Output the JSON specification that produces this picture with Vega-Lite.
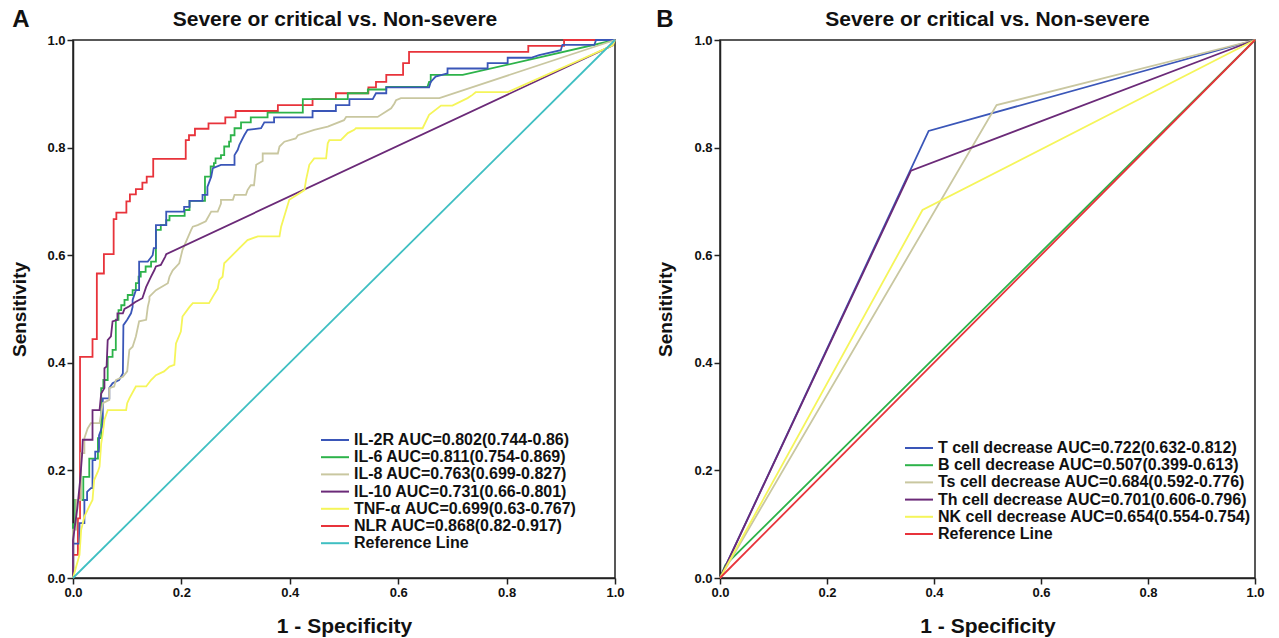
{
"$schema": "https://vega.github.io/schema/vega-lite/v6.json",
"padding": {"left": 10, "top": 8, "right": 5, "bottom": 0},
"config": {
  "view": {"stroke": "#222", "strokeWidth": 1.5},
  "font": "Liberation Sans",
  "axis": {"grid": false, "domainColor": "#222", "domainWidth": 1.5, "tickColor": "#222", "tickWidth": 1.5, "tickSize": 6, "labelFont": "Liberation Sans", "labelFontWeight": "bold", "labelFontSize": 13, "labelColor": "#111", "labelFlush": false, "titleFont": "Liberation Sans", "titleFontSize": 19, "titleFontWeight": "bold", "titleColor": "#111"},
  "axisX": {"titleFontSize": 21, "titlePadding": 16},
  "legend": {"padding": 0, "symbolType": "M-2,0H2", "symbolSize": 196, "symbolStrokeWidth": 2, "labelFont": "Liberation Sans", "labelFontSize": 16, "labelFontWeight": "bold", "labelColor": "#111", "labelLimit": 500, "rowPadding": 1.2, "labelOffset": 11},
  "title": {"font": "Liberation Sans", "fontSize": 21, "fontWeight": "bold", "color": "#111", "offset": 4},
  "concat": {"spacing": 31}
},
"datasets": {
  "a": [
    {"s":"NLR AUC=0.868(0.82-0.917)","x":0,"y":0},{"s":"NLR AUC=0.868(0.82-0.917)","x":0,"y":0.043},{"s":"NLR AUC=0.868(0.82-0.917)","x":0.009,"y":0.043},{"s":"NLR AUC=0.868(0.82-0.917)","x":0.009,"y":0.111},{"s":"NLR AUC=0.868(0.82-0.917)","x":0.013,"y":0.111},{"s":"NLR AUC=0.868(0.82-0.917)","x":0.013,"y":0.411},{"s":"NLR AUC=0.868(0.82-0.917)","x":0.036,"y":0.411},{"s":"NLR AUC=0.868(0.82-0.917)","x":0.036,"y":0.444},{"s":"NLR AUC=0.868(0.82-0.917)","x":0.044,"y":0.444},{"s":"NLR AUC=0.868(0.82-0.917)","x":0.044,"y":0.566},{"s":"NLR AUC=0.868(0.82-0.917)","x":0.057,"y":0.566},{"s":"NLR AUC=0.868(0.82-0.917)","x":0.057,"y":0.602},{"s":"NLR AUC=0.868(0.82-0.917)","x":0.075,"y":0.602},{"s":"NLR AUC=0.868(0.82-0.917)","x":0.075,"y":0.667},{"s":"NLR AUC=0.868(0.82-0.917)","x":0.08,"y":0.667},{"s":"NLR AUC=0.868(0.82-0.917)","x":0.08,"y":0.679},{"s":"NLR AUC=0.868(0.82-0.917)","x":0.0985,"y":0.679},{"s":"NLR AUC=0.868(0.82-0.917)","x":0.0985,"y":0.7},{"s":"NLR AUC=0.868(0.82-0.917)","x":0.105,"y":0.7},{"s":"NLR AUC=0.868(0.82-0.917)","x":0.105,"y":0.713},{"s":"NLR AUC=0.868(0.82-0.917)","x":0.116,"y":0.713},{"s":"NLR AUC=0.868(0.82-0.917)","x":0.116,"y":0.723},{"s":"NLR AUC=0.868(0.82-0.917)","x":0.128,"y":0.723},{"s":"NLR AUC=0.868(0.82-0.917)","x":0.128,"y":0.735},{"s":"NLR AUC=0.868(0.82-0.917)","x":0.136,"y":0.735},{"s":"NLR AUC=0.868(0.82-0.917)","x":0.136,"y":0.746},{"s":"NLR AUC=0.868(0.82-0.917)","x":0.148,"y":0.746},{"s":"NLR AUC=0.868(0.82-0.917)","x":0.148,"y":0.779},{"s":"NLR AUC=0.868(0.82-0.917)","x":0.208,"y":0.779},{"s":"NLR AUC=0.868(0.82-0.917)","x":0.208,"y":0.814},{"s":"NLR AUC=0.868(0.82-0.917)","x":0.214,"y":0.814},{"s":"NLR AUC=0.868(0.82-0.917)","x":0.214,"y":0.823},{"s":"NLR AUC=0.868(0.82-0.917)","x":0.225,"y":0.823},{"s":"NLR AUC=0.868(0.82-0.917)","x":0.225,"y":0.835},{"s":"NLR AUC=0.868(0.82-0.917)","x":0.25,"y":0.835},{"s":"NLR AUC=0.868(0.82-0.917)","x":0.25,"y":0.845},{"s":"NLR AUC=0.868(0.82-0.917)","x":0.281,"y":0.845},{"s":"NLR AUC=0.868(0.82-0.917)","x":0.281,"y":0.856},{"s":"NLR AUC=0.868(0.82-0.917)","x":0.3,"y":0.856},{"s":"NLR AUC=0.868(0.82-0.917)","x":0.3,"y":0.868},{"s":"NLR AUC=0.868(0.82-0.917)","x":0.378,"y":0.868},{"s":"NLR AUC=0.868(0.82-0.917)","x":0.378,"y":0.879},{"s":"NLR AUC=0.868(0.82-0.917)","x":0.442,"y":0.879},{"s":"NLR AUC=0.868(0.82-0.917)","x":0.442,"y":0.89},{"s":"NLR AUC=0.868(0.82-0.917)","x":0.485,"y":0.89},{"s":"NLR AUC=0.868(0.82-0.917)","x":0.485,"y":0.901},{"s":"NLR AUC=0.868(0.82-0.917)","x":0.545,"y":0.901},{"s":"NLR AUC=0.868(0.82-0.917)","x":0.545,"y":0.912},{"s":"NLR AUC=0.868(0.82-0.917)","x":0.559,"y":0.912},{"s":"NLR AUC=0.868(0.82-0.917)","x":0.559,"y":0.922},{"s":"NLR AUC=0.868(0.82-0.917)","x":0.578,"y":0.922},{"s":"NLR AUC=0.868(0.82-0.917)","x":0.578,"y":0.935},{"s":"NLR AUC=0.868(0.82-0.917)","x":0.609,"y":0.935},{"s":"NLR AUC=0.868(0.82-0.917)","x":0.609,"y":0.957},{"s":"NLR AUC=0.868(0.82-0.917)","x":0.62,"y":0.957},{"s":"NLR AUC=0.868(0.82-0.917)","x":0.62,"y":0.978},{"s":"NLR AUC=0.868(0.82-0.917)","x":0.84,"y":0.978},{"s":"NLR AUC=0.868(0.82-0.917)","x":0.84,"y":0.989},{"s":"NLR AUC=0.868(0.82-0.917)","x":0.906,"y":0.989},{"s":"NLR AUC=0.868(0.82-0.917)","x":0.906,"y":1},{"s":"NLR AUC=0.868(0.82-0.917)","x":1,"y":1},

    {"s":"IL-6 AUC=0.811(0.754-0.869)","x":0,"y":0},{"s":"IL-6 AUC=0.811(0.754-0.869)","x":0,"y":0.1},{"s":"IL-6 AUC=0.811(0.754-0.869)","x":0.004,"y":0.1},{"s":"IL-6 AUC=0.811(0.754-0.869)","x":0.004,"y":0.145},{"s":"IL-6 AUC=0.811(0.754-0.869)","x":0.019,"y":0.145},{"s":"IL-6 AUC=0.811(0.754-0.869)","x":0.019,"y":0.188},{"s":"IL-6 AUC=0.811(0.754-0.869)","x":0.03,"y":0.188},{"s":"IL-6 AUC=0.811(0.754-0.869)","x":0.03,"y":0.222},{"s":"IL-6 AUC=0.811(0.754-0.869)","x":0.046,"y":0.222},{"s":"IL-6 AUC=0.811(0.754-0.869)","x":0.046,"y":0.26},{"s":"IL-6 AUC=0.811(0.754-0.869)","x":0.052,"y":0.26},{"s":"IL-6 AUC=0.811(0.754-0.869)","x":0.052,"y":0.353},{"s":"IL-6 AUC=0.811(0.754-0.869)","x":0.056,"y":0.353},{"s":"IL-6 AUC=0.811(0.754-0.869)","x":0.056,"y":0.368},{"s":"IL-6 AUC=0.811(0.754-0.869)","x":0.064,"y":0.368},{"s":"IL-6 AUC=0.811(0.754-0.869)","x":0.064,"y":0.411},{"s":"IL-6 AUC=0.811(0.754-0.869)","x":0.073,"y":0.411},{"s":"IL-6 AUC=0.811(0.754-0.869)","x":0.073,"y":0.424},{"s":"IL-6 AUC=0.811(0.754-0.869)","x":0.079,"y":0.424},{"s":"IL-6 AUC=0.811(0.754-0.869)","x":0.079,"y":0.48},{"s":"IL-6 AUC=0.811(0.754-0.869)","x":0.084,"y":0.48},{"s":"IL-6 AUC=0.811(0.754-0.869)","x":0.084,"y":0.498},{"s":"IL-6 AUC=0.811(0.754-0.869)","x":0.089,"y":0.498},{"s":"IL-6 AUC=0.811(0.754-0.869)","x":0.089,"y":0.507},{"s":"IL-6 AUC=0.811(0.754-0.869)","x":0.095,"y":0.507},{"s":"IL-6 AUC=0.811(0.754-0.869)","x":0.095,"y":0.517},{"s":"IL-6 AUC=0.811(0.754-0.869)","x":0.101,"y":0.517},{"s":"IL-6 AUC=0.811(0.754-0.869)","x":0.101,"y":0.526},{"s":"IL-6 AUC=0.811(0.754-0.869)","x":0.11,"y":0.526},{"s":"IL-6 AUC=0.811(0.754-0.869)","x":0.11,"y":0.535},{"s":"IL-6 AUC=0.811(0.754-0.869)","x":0.116,"y":0.535},{"s":"IL-6 AUC=0.811(0.754-0.869)","x":0.116,"y":0.548},{"s":"IL-6 AUC=0.811(0.754-0.869)","x":0.121,"y":0.548},{"s":"IL-6 AUC=0.811(0.754-0.869)","x":0.121,"y":0.56},{"s":"IL-6 AUC=0.811(0.754-0.869)","x":0.125,"y":0.56},{"s":"IL-6 AUC=0.811(0.754-0.869)","x":0.125,"y":0.569},{"s":"IL-6 AUC=0.811(0.754-0.869)","x":0.134,"y":0.569},{"s":"IL-6 AUC=0.811(0.754-0.869)","x":0.134,"y":0.579},{"s":"IL-6 AUC=0.811(0.754-0.869)","x":0.144,"y":0.579},{"s":"IL-6 AUC=0.811(0.754-0.869)","x":0.144,"y":0.588},{"s":"IL-6 AUC=0.811(0.754-0.869)","x":0.153,"y":0.588},{"s":"IL-6 AUC=0.811(0.754-0.869)","x":0.153,"y":0.647},{"s":"IL-6 AUC=0.811(0.754-0.869)","x":0.162,"y":0.647},{"s":"IL-6 AUC=0.811(0.754-0.869)","x":0.162,"y":0.656},{"s":"IL-6 AUC=0.811(0.754-0.869)","x":0.172,"y":0.656},{"s":"IL-6 AUC=0.811(0.754-0.869)","x":0.172,"y":0.665},{"s":"IL-6 AUC=0.811(0.754-0.869)","x":0.178,"y":0.665},{"s":"IL-6 AUC=0.811(0.754-0.869)","x":0.178,"y":0.673},{"s":"IL-6 AUC=0.811(0.754-0.869)","x":0.206,"y":0.673},{"s":"IL-6 AUC=0.811(0.754-0.869)","x":0.206,"y":0.684},{"s":"IL-6 AUC=0.811(0.754-0.869)","x":0.215,"y":0.684},{"s":"IL-6 AUC=0.811(0.754-0.869)","x":0.215,"y":0.701},{"s":"IL-6 AUC=0.811(0.754-0.869)","x":0.2435,"y":0.701},{"s":"IL-6 AUC=0.811(0.754-0.869)","x":0.2435,"y":0.746},{"s":"IL-6 AUC=0.811(0.754-0.869)","x":0.254,"y":0.746},{"s":"IL-6 AUC=0.811(0.754-0.869)","x":0.254,"y":0.765},{"s":"IL-6 AUC=0.811(0.754-0.869)","x":0.26,"y":0.765},{"s":"IL-6 AUC=0.811(0.754-0.869)","x":0.26,"y":0.771},{"s":"IL-6 AUC=0.811(0.754-0.869)","x":0.263,"y":0.771},{"s":"IL-6 AUC=0.811(0.754-0.869)","x":0.263,"y":0.78},{"s":"IL-6 AUC=0.811(0.754-0.869)","x":0.273,"y":0.78},{"s":"IL-6 AUC=0.811(0.754-0.869)","x":0.273,"y":0.786},{"s":"IL-6 AUC=0.811(0.754-0.869)","x":0.279,"y":0.786},{"s":"IL-6 AUC=0.811(0.754-0.869)","x":0.279,"y":0.802},{"s":"IL-6 AUC=0.811(0.754-0.869)","x":0.288,"y":0.802},{"s":"IL-6 AUC=0.811(0.754-0.869)","x":0.288,"y":0.811},{"s":"IL-6 AUC=0.811(0.754-0.869)","x":0.291,"y":0.811},{"s":"IL-6 AUC=0.811(0.754-0.869)","x":0.291,"y":0.823},{"s":"IL-6 AUC=0.811(0.754-0.869)","x":0.298,"y":0.823},{"s":"IL-6 AUC=0.811(0.754-0.869)","x":0.298,"y":0.836},{"s":"IL-6 AUC=0.811(0.754-0.869)","x":0.31,"y":0.836},{"s":"IL-6 AUC=0.811(0.754-0.869)","x":0.31,"y":0.847},{"s":"IL-6 AUC=0.811(0.754-0.869)","x":0.328,"y":0.847},{"s":"IL-6 AUC=0.811(0.754-0.869)","x":0.328,"y":0.856},{"s":"IL-6 AUC=0.811(0.754-0.869)","x":0.359,"y":0.856},{"s":"IL-6 AUC=0.811(0.754-0.869)","x":0.359,"y":0.865},{"s":"IL-6 AUC=0.811(0.754-0.869)","x":0.424,"y":0.865},{"s":"IL-6 AUC=0.811(0.754-0.869)","x":0.424,"y":0.89},{"s":"IL-6 AUC=0.811(0.754-0.869)","x":0.507,"y":0.89},{"s":"IL-6 AUC=0.811(0.754-0.869)","x":0.507,"y":0.901},{"s":"IL-6 AUC=0.811(0.754-0.869)","x":0.544,"y":0.901},{"s":"IL-6 AUC=0.811(0.754-0.869)","x":0.544,"y":0.908},{"s":"IL-6 AUC=0.811(0.754-0.869)","x":0.578,"y":0.908},{"s":"IL-6 AUC=0.811(0.754-0.869)","x":0.578,"y":0.913},{"s":"IL-6 AUC=0.811(0.754-0.869)","x":0.654,"y":0.913},{"s":"IL-6 AUC=0.811(0.754-0.869)","x":0.657,"y":0.922},{"s":"IL-6 AUC=0.811(0.754-0.869)","x":0.66,"y":0.922},{"s":"IL-6 AUC=0.811(0.754-0.869)","x":0.66,"y":0.935},{"s":"IL-6 AUC=0.811(0.754-0.869)","x":0.719,"y":0.935},{"s":"IL-6 AUC=0.811(0.754-0.869)","x":1,"y":1},

    {"s":"IL-2R AUC=0.802(0.744-0.86)","x":0,"y":0},{"s":"IL-2R AUC=0.802(0.744-0.86)","x":0,"y":0.064},{"s":"IL-2R AUC=0.802(0.744-0.86)","x":0.012,"y":0.064},{"s":"IL-2R AUC=0.802(0.744-0.86)","x":0.012,"y":0.102},{"s":"IL-2R AUC=0.802(0.744-0.86)","x":0.021,"y":0.102},{"s":"IL-2R AUC=0.802(0.744-0.86)","x":0.021,"y":0.145},{"s":"IL-2R AUC=0.802(0.744-0.86)","x":0.026,"y":0.145},{"s":"IL-2R AUC=0.802(0.744-0.86)","x":0.026,"y":0.16},{"s":"IL-2R AUC=0.802(0.744-0.86)","x":0.033,"y":0.167},{"s":"IL-2R AUC=0.802(0.744-0.86)","x":0.036,"y":0.167},{"s":"IL-2R AUC=0.802(0.744-0.86)","x":0.036,"y":0.219},{"s":"IL-2R AUC=0.802(0.744-0.86)","x":0.041,"y":0.219},{"s":"IL-2R AUC=0.802(0.744-0.86)","x":0.041,"y":0.235},{"s":"IL-2R AUC=0.802(0.744-0.86)","x":0.048,"y":0.235},{"s":"IL-2R AUC=0.802(0.744-0.86)","x":0.048,"y":0.265},{"s":"IL-2R AUC=0.802(0.744-0.86)","x":0.055,"y":0.284},{"s":"IL-2R AUC=0.802(0.744-0.86)","x":0.055,"y":0.334},{"s":"IL-2R AUC=0.802(0.744-0.86)","x":0.067,"y":0.334},{"s":"IL-2R AUC=0.802(0.744-0.86)","x":0.067,"y":0.353},{"s":"IL-2R AUC=0.802(0.744-0.86)","x":0.073,"y":0.362},{"s":"IL-2R AUC=0.802(0.744-0.86)","x":0.085,"y":0.368},{"s":"IL-2R AUC=0.802(0.744-0.86)","x":0.092,"y":0.38},{"s":"IL-2R AUC=0.802(0.744-0.86)","x":0.093,"y":0.47},{"s":"IL-2R AUC=0.802(0.744-0.86)","x":0.1,"y":0.48},{"s":"IL-2R AUC=0.802(0.744-0.86)","x":0.107,"y":0.492},{"s":"IL-2R AUC=0.802(0.744-0.86)","x":0.11,"y":0.504},{"s":"IL-2R AUC=0.802(0.744-0.86)","x":0.11,"y":0.517},{"s":"IL-2R AUC=0.802(0.744-0.86)","x":0.116,"y":0.535},{"s":"IL-2R AUC=0.802(0.744-0.86)","x":0.122,"y":0.535},{"s":"IL-2R AUC=0.802(0.744-0.86)","x":0.122,"y":0.588},{"s":"IL-2R AUC=0.802(0.744-0.86)","x":0.138,"y":0.588},{"s":"IL-2R AUC=0.802(0.744-0.86)","x":0.147,"y":0.6},{"s":"IL-2R AUC=0.802(0.744-0.86)","x":0.149,"y":0.613},{"s":"IL-2R AUC=0.802(0.744-0.86)","x":0.153,"y":0.613},{"s":"IL-2R AUC=0.802(0.744-0.86)","x":0.153,"y":0.656},{"s":"IL-2R AUC=0.802(0.744-0.86)","x":0.172,"y":0.656},{"s":"IL-2R AUC=0.802(0.744-0.86)","x":0.172,"y":0.681},{"s":"IL-2R AUC=0.802(0.744-0.86)","x":0.205,"y":0.681},{"s":"IL-2R AUC=0.802(0.744-0.86)","x":0.205,"y":0.69},{"s":"IL-2R AUC=0.802(0.744-0.86)","x":0.215,"y":0.69},{"s":"IL-2R AUC=0.802(0.744-0.86)","x":0.215,"y":0.701},{"s":"IL-2R AUC=0.802(0.744-0.86)","x":0.239,"y":0.701},{"s":"IL-2R AUC=0.802(0.744-0.86)","x":0.239,"y":0.712},{"s":"IL-2R AUC=0.802(0.744-0.86)","x":0.248,"y":0.712},{"s":"IL-2R AUC=0.802(0.744-0.86)","x":0.248,"y":0.727},{"s":"IL-2R AUC=0.802(0.744-0.86)","x":0.255,"y":0.746},{"s":"IL-2R AUC=0.802(0.744-0.86)","x":0.258,"y":0.762},{"s":"IL-2R AUC=0.802(0.744-0.86)","x":0.273,"y":0.768},{"s":"IL-2R AUC=0.802(0.744-0.86)","x":0.298,"y":0.768},{"s":"IL-2R AUC=0.802(0.744-0.86)","x":0.298,"y":0.786},{"s":"IL-2R AUC=0.802(0.744-0.86)","x":0.304,"y":0.796},{"s":"IL-2R AUC=0.802(0.744-0.86)","x":0.307,"y":0.805},{"s":"IL-2R AUC=0.802(0.744-0.86)","x":0.316,"y":0.823},{"s":"IL-2R AUC=0.802(0.744-0.86)","x":0.322,"y":0.833},{"s":"IL-2R AUC=0.802(0.744-0.86)","x":0.347,"y":0.836},{"s":"IL-2R AUC=0.802(0.744-0.86)","x":0.353,"y":0.847},{"s":"IL-2R AUC=0.802(0.744-0.86)","x":0.371,"y":0.847},{"s":"IL-2R AUC=0.802(0.744-0.86)","x":0.371,"y":0.856},{"s":"IL-2R AUC=0.802(0.744-0.86)","x":0.442,"y":0.856},{"s":"IL-2R AUC=0.802(0.744-0.86)","x":0.442,"y":0.868},{"s":"IL-2R AUC=0.802(0.744-0.86)","x":0.485,"y":0.868},{"s":"IL-2R AUC=0.802(0.744-0.86)","x":0.485,"y":0.879},{"s":"IL-2R AUC=0.802(0.744-0.86)","x":0.51,"y":0.879},{"s":"IL-2R AUC=0.802(0.744-0.86)","x":0.51,"y":0.89},{"s":"IL-2R AUC=0.802(0.744-0.86)","x":0.553,"y":0.89},{"s":"IL-2R AUC=0.802(0.744-0.86)","x":0.559,"y":0.901},{"s":"IL-2R AUC=0.802(0.744-0.86)","x":0.578,"y":0.901},{"s":"IL-2R AUC=0.802(0.744-0.86)","x":0.578,"y":0.912},{"s":"IL-2R AUC=0.802(0.744-0.86)","x":0.657,"y":0.912},{"s":"IL-2R AUC=0.802(0.744-0.86)","x":0.66,"y":0.922},{"s":"IL-2R AUC=0.802(0.744-0.86)","x":0.669,"y":0.932},{"s":"IL-2R AUC=0.802(0.744-0.86)","x":0.691,"y":0.938},{"s":"IL-2R AUC=0.802(0.744-0.86)","x":0.691,"y":0.947},{"s":"IL-2R AUC=0.802(0.744-0.86)","x":0.765,"y":0.947},{"s":"IL-2R AUC=0.802(0.744-0.86)","x":0.765,"y":0.957},{"s":"IL-2R AUC=0.802(0.744-0.86)","x":0.802,"y":0.957},{"s":"IL-2R AUC=0.802(0.744-0.86)","x":0.802,"y":0.967},{"s":"IL-2R AUC=0.802(0.744-0.86)","x":0.845,"y":0.967},{"s":"IL-2R AUC=0.802(0.744-0.86)","x":0.86,"y":0.972},{"s":"IL-2R AUC=0.802(0.744-0.86)","x":0.9,"y":0.981},{"s":"IL-2R AUC=0.802(0.744-0.86)","x":0.903,"y":0.991},{"s":"IL-2R AUC=0.802(0.744-0.86)","x":0.962,"y":0.991},{"s":"IL-2R AUC=0.802(0.744-0.86)","x":0.965,"y":1},{"s":"IL-2R AUC=0.802(0.744-0.86)","x":1,"y":1},

    {"s":"IL-8 AUC=0.763(0.699-0.827)","x":0,"y":0},{"s":"IL-8 AUC=0.763(0.699-0.827)","x":0,"y":0.09},{"s":"IL-8 AUC=0.763(0.699-0.827)","x":0.006,"y":0.09},{"s":"IL-8 AUC=0.763(0.699-0.827)","x":0.006,"y":0.145},{"s":"IL-8 AUC=0.763(0.699-0.827)","x":0.015,"y":0.145},{"s":"IL-8 AUC=0.763(0.699-0.827)","x":0.015,"y":0.232},{"s":"IL-8 AUC=0.763(0.699-0.827)","x":0.021,"y":0.232},{"s":"IL-8 AUC=0.763(0.699-0.827)","x":0.021,"y":0.26},{"s":"IL-8 AUC=0.763(0.699-0.827)","x":0.027,"y":0.278},{"s":"IL-8 AUC=0.763(0.699-0.827)","x":0.033,"y":0.288},{"s":"IL-8 AUC=0.763(0.699-0.827)","x":0.049,"y":0.288},{"s":"IL-8 AUC=0.763(0.699-0.827)","x":0.055,"y":0.325},{"s":"IL-8 AUC=0.763(0.699-0.827)","x":0.067,"y":0.331},{"s":"IL-8 AUC=0.763(0.699-0.827)","x":0.067,"y":0.353},{"s":"IL-8 AUC=0.763(0.699-0.827)","x":0.076,"y":0.356},{"s":"IL-8 AUC=0.763(0.699-0.827)","x":0.079,"y":0.368},{"s":"IL-8 AUC=0.763(0.699-0.827)","x":0.092,"y":0.374},{"s":"IL-8 AUC=0.763(0.699-0.827)","x":0.1,"y":0.384},{"s":"IL-8 AUC=0.763(0.699-0.827)","x":0.104,"y":0.424},{"s":"IL-8 AUC=0.763(0.699-0.827)","x":0.11,"y":0.43},{"s":"IL-8 AUC=0.763(0.699-0.827)","x":0.116,"y":0.449},{"s":"IL-8 AUC=0.763(0.699-0.827)","x":0.122,"y":0.477},{"s":"IL-8 AUC=0.763(0.699-0.827)","x":0.135,"y":0.48},{"s":"IL-8 AUC=0.763(0.699-0.827)","x":0.138,"y":0.504},{"s":"IL-8 AUC=0.763(0.699-0.827)","x":0.141,"y":0.517},{"s":"IL-8 AUC=0.763(0.699-0.827)","x":0.141,"y":0.523},{"s":"IL-8 AUC=0.763(0.699-0.827)","x":0.153,"y":0.535},{"s":"IL-8 AUC=0.763(0.699-0.827)","x":0.175,"y":0.548},{"s":"IL-8 AUC=0.763(0.699-0.827)","x":0.178,"y":0.56},{"s":"IL-8 AUC=0.763(0.699-0.827)","x":0.184,"y":0.572},{"s":"IL-8 AUC=0.763(0.699-0.827)","x":0.196,"y":0.585},{"s":"IL-8 AUC=0.763(0.699-0.827)","x":0.202,"y":0.61},{"s":"IL-8 AUC=0.763(0.699-0.827)","x":0.218,"y":0.647},{"s":"IL-8 AUC=0.763(0.699-0.827)","x":0.221,"y":0.653},{"s":"IL-8 AUC=0.763(0.699-0.827)","x":0.23,"y":0.656},{"s":"IL-8 AUC=0.763(0.699-0.827)","x":0.245,"y":0.663},{"s":"IL-8 AUC=0.763(0.699-0.827)","x":0.255,"y":0.681},{"s":"IL-8 AUC=0.763(0.699-0.827)","x":0.267,"y":0.681},{"s":"IL-8 AUC=0.763(0.699-0.827)","x":0.273,"y":0.696},{"s":"IL-8 AUC=0.763(0.699-0.827)","x":0.273,"y":0.703},{"s":"IL-8 AUC=0.763(0.699-0.827)","x":0.295,"y":0.703},{"s":"IL-8 AUC=0.763(0.699-0.827)","x":0.298,"y":0.712},{"s":"IL-8 AUC=0.763(0.699-0.827)","x":0.319,"y":0.712},{"s":"IL-8 AUC=0.763(0.699-0.827)","x":0.322,"y":0.721},{"s":"IL-8 AUC=0.763(0.699-0.827)","x":0.328,"y":0.73},{"s":"IL-8 AUC=0.763(0.699-0.827)","x":0.334,"y":0.73},{"s":"IL-8 AUC=0.763(0.699-0.827)","x":0.338,"y":0.768},{"s":"IL-8 AUC=0.763(0.699-0.827)","x":0.35,"y":0.775},{"s":"IL-8 AUC=0.763(0.699-0.827)","x":0.35,"y":0.789},{"s":"IL-8 AUC=0.763(0.699-0.827)","x":0.378,"y":0.789},{"s":"IL-8 AUC=0.763(0.699-0.827)","x":0.381,"y":0.802},{"s":"IL-8 AUC=0.763(0.699-0.827)","x":0.39,"y":0.811},{"s":"IL-8 AUC=0.763(0.699-0.827)","x":0.411,"y":0.817},{"s":"IL-8 AUC=0.763(0.699-0.827)","x":0.415,"y":0.823},{"s":"IL-8 AUC=0.763(0.699-0.827)","x":0.445,"y":0.833},{"s":"IL-8 AUC=0.763(0.699-0.827)","x":0.47,"y":0.839},{"s":"IL-8 AUC=0.763(0.699-0.827)","x":0.5,"y":0.851},{"s":"IL-8 AUC=0.763(0.699-0.827)","x":0.504,"y":0.857},{"s":"IL-8 AUC=0.763(0.699-0.827)","x":0.562,"y":0.857},{"s":"IL-8 AUC=0.763(0.699-0.827)","x":0.587,"y":0.873},{"s":"IL-8 AUC=0.763(0.699-0.827)","x":0.593,"y":0.882},{"s":"IL-8 AUC=0.763(0.699-0.827)","x":0.596,"y":0.888},{"s":"IL-8 AUC=0.763(0.699-0.827)","x":0.605,"y":0.892},{"s":"IL-8 AUC=0.763(0.699-0.827)","x":0.676,"y":0.892},{"s":"IL-8 AUC=0.763(0.699-0.827)","x":1,"y":1},

    {"s":"IL-10 AUC=0.731(0.66-0.801)","x":0,"y":0},{"s":"IL-10 AUC=0.731(0.66-0.801)","x":0,"y":0.07},{"s":"IL-10 AUC=0.731(0.66-0.801)","x":0.008,"y":0.13},{"s":"IL-10 AUC=0.731(0.66-0.801)","x":0.013,"y":0.18},{"s":"IL-10 AUC=0.731(0.66-0.801)","x":0.017,"y":0.232},{"s":"IL-10 AUC=0.731(0.66-0.801)","x":0.018,"y":0.257},{"s":"IL-10 AUC=0.731(0.66-0.801)","x":0.036,"y":0.257},{"s":"IL-10 AUC=0.731(0.66-0.801)","x":0.036,"y":0.312},{"s":"IL-10 AUC=0.731(0.66-0.801)","x":0.049,"y":0.312},{"s":"IL-10 AUC=0.731(0.66-0.801)","x":0.052,"y":0.343},{"s":"IL-10 AUC=0.731(0.66-0.801)","x":0.058,"y":0.353},{"s":"IL-10 AUC=0.731(0.66-0.801)","x":0.058,"y":0.39},{"s":"IL-10 AUC=0.731(0.66-0.801)","x":0.062,"y":0.393},{"s":"IL-10 AUC=0.731(0.66-0.801)","x":0.064,"y":0.442},{"s":"IL-10 AUC=0.731(0.66-0.801)","x":0.07,"y":0.449},{"s":"IL-10 AUC=0.731(0.66-0.801)","x":0.073,"y":0.477},{"s":"IL-10 AUC=0.731(0.66-0.801)","x":0.082,"y":0.48},{"s":"IL-10 AUC=0.731(0.66-0.801)","x":0.082,"y":0.492},{"s":"IL-10 AUC=0.731(0.66-0.801)","x":0.092,"y":0.492},{"s":"IL-10 AUC=0.731(0.66-0.801)","x":0.095,"y":0.5},{"s":"IL-10 AUC=0.731(0.66-0.801)","x":0.104,"y":0.505},{"s":"IL-10 AUC=0.731(0.66-0.801)","x":0.115,"y":0.513},{"s":"IL-10 AUC=0.731(0.66-0.801)","x":0.128,"y":0.52},{"s":"IL-10 AUC=0.731(0.66-0.801)","x":0.135,"y":0.541},{"s":"IL-10 AUC=0.731(0.66-0.801)","x":0.144,"y":0.56},{"s":"IL-10 AUC=0.731(0.66-0.801)","x":0.15,"y":0.572},{"s":"IL-10 AUC=0.731(0.66-0.801)","x":0.153,"y":0.579},{"s":"IL-10 AUC=0.731(0.66-0.801)","x":0.162,"y":0.582},{"s":"IL-10 AUC=0.731(0.66-0.801)","x":0.17,"y":0.597},{"s":"IL-10 AUC=0.731(0.66-0.801)","x":0.172,"y":0.602},{"s":"IL-10 AUC=0.731(0.66-0.801)","x":0.996,"y":0.99},{"s":"IL-10 AUC=0.731(0.66-0.801)","x":1,"y":1},

    {"s":"TNF-α AUC=0.699(0.63-0.767)","x":0,"y":0},{"s":"TNF-α AUC=0.699(0.63-0.767)","x":0.012,"y":0.043},{"s":"TNF-α AUC=0.699(0.63-0.767)","x":0.015,"y":0.089},{"s":"TNF-α AUC=0.699(0.63-0.767)","x":0.021,"y":0.114},{"s":"TNF-α AUC=0.699(0.63-0.767)","x":0.03,"y":0.133},{"s":"TNF-α AUC=0.699(0.63-0.767)","x":0.036,"y":0.145},{"s":"TNF-α AUC=0.699(0.63-0.767)","x":0.039,"y":0.182},{"s":"TNF-α AUC=0.699(0.63-0.767)","x":0.046,"y":0.198},{"s":"TNF-α AUC=0.699(0.63-0.767)","x":0.049,"y":0.207},{"s":"TNF-α AUC=0.699(0.63-0.767)","x":0.052,"y":0.25},{"s":"TNF-α AUC=0.699(0.63-0.767)","x":0.055,"y":0.269},{"s":"TNF-α AUC=0.699(0.63-0.767)","x":0.058,"y":0.294},{"s":"TNF-α AUC=0.699(0.63-0.767)","x":0.064,"y":0.312},{"s":"TNF-α AUC=0.699(0.63-0.767)","x":0.098,"y":0.312},{"s":"TNF-α AUC=0.699(0.63-0.767)","x":0.1,"y":0.325},{"s":"TNF-α AUC=0.699(0.63-0.767)","x":0.104,"y":0.334},{"s":"TNF-α AUC=0.699(0.63-0.767)","x":0.116,"y":0.356},{"s":"TNF-α AUC=0.699(0.63-0.767)","x":0.135,"y":0.356},{"s":"TNF-α AUC=0.699(0.63-0.767)","x":0.144,"y":0.368},{"s":"TNF-α AUC=0.699(0.63-0.767)","x":0.153,"y":0.377},{"s":"TNF-α AUC=0.699(0.63-0.767)","x":0.168,"y":0.384},{"s":"TNF-α AUC=0.699(0.63-0.767)","x":0.178,"y":0.393},{"s":"TNF-α AUC=0.699(0.63-0.767)","x":0.187,"y":0.396},{"s":"TNF-α AUC=0.699(0.63-0.767)","x":0.19,"y":0.436},{"s":"TNF-α AUC=0.699(0.63-0.767)","x":0.199,"y":0.458},{"s":"TNF-α AUC=0.699(0.63-0.767)","x":0.202,"y":0.486},{"s":"TNF-α AUC=0.699(0.63-0.767)","x":0.215,"y":0.504},{"s":"TNF-α AUC=0.699(0.63-0.767)","x":0.221,"y":0.511},{"s":"TNF-α AUC=0.699(0.63-0.767)","x":0.251,"y":0.511},{"s":"TNF-α AUC=0.699(0.63-0.767)","x":0.258,"y":0.523},{"s":"TNF-α AUC=0.699(0.63-0.767)","x":0.267,"y":0.538},{"s":"TNF-α AUC=0.699(0.63-0.767)","x":0.27,"y":0.554},{"s":"TNF-α AUC=0.699(0.63-0.767)","x":0.276,"y":0.56},{"s":"TNF-α AUC=0.699(0.63-0.767)","x":0.279,"y":0.585},{"s":"TNF-α AUC=0.699(0.63-0.767)","x":0.285,"y":0.591},{"s":"TNF-α AUC=0.699(0.63-0.767)","x":0.307,"y":0.613},{"s":"TNF-α AUC=0.699(0.63-0.767)","x":0.322,"y":0.628},{"s":"TNF-α AUC=0.699(0.63-0.767)","x":0.341,"y":0.635},{"s":"TNF-α AUC=0.699(0.63-0.767)","x":0.381,"y":0.635},{"s":"TNF-α AUC=0.699(0.63-0.767)","x":0.384,"y":0.653},{"s":"TNF-α AUC=0.699(0.63-0.767)","x":0.399,"y":0.703},{"s":"TNF-α AUC=0.699(0.63-0.767)","x":0.427,"y":0.721},{"s":"TNF-α AUC=0.699(0.63-0.767)","x":0.43,"y":0.74},{"s":"TNF-α AUC=0.699(0.63-0.767)","x":0.436,"y":0.768},{"s":"TNF-α AUC=0.699(0.63-0.767)","x":0.445,"y":0.78},{"s":"TNF-α AUC=0.699(0.63-0.767)","x":0.467,"y":0.78},{"s":"TNF-α AUC=0.699(0.63-0.767)","x":0.47,"y":0.808},{"s":"TNF-α AUC=0.699(0.63-0.767)","x":0.473,"y":0.814},{"s":"TNF-α AUC=0.699(0.63-0.767)","x":0.494,"y":0.814},{"s":"TNF-α AUC=0.699(0.63-0.767)","x":0.507,"y":0.827},{"s":"TNF-α AUC=0.699(0.63-0.767)","x":0.519,"y":0.833},{"s":"TNF-α AUC=0.699(0.63-0.767)","x":0.522,"y":0.836},{"s":"TNF-α AUC=0.699(0.63-0.767)","x":0.645,"y":0.836},{"s":"TNF-α AUC=0.699(0.63-0.767)","x":0.657,"y":0.861},{"s":"TNF-α AUC=0.699(0.63-0.767)","x":0.679,"y":0.878},{"s":"TNF-α AUC=0.699(0.63-0.767)","x":0.7,"y":0.878},{"s":"TNF-α AUC=0.699(0.63-0.767)","x":0.728,"y":0.892},{"s":"TNF-α AUC=0.699(0.63-0.767)","x":0.737,"y":0.898},{"s":"TNF-α AUC=0.699(0.63-0.767)","x":0.743,"y":0.903},{"s":"TNF-α AUC=0.699(0.63-0.767)","x":0.802,"y":0.903},{"s":"TNF-α AUC=0.699(0.63-0.767)","x":0.996,"y":0.99},{"s":"TNF-α AUC=0.699(0.63-0.767)","x":1,"y":1},

    {"s":"Reference Line","x":0,"y":0},{"s":"Reference Line","x":1,"y":1}
  ],
  "b": [
    {"s":"T cell decrease AUC=0.722(0.632-0.812)","x":0,"y":0},{"s":"T cell decrease AUC=0.722(0.632-0.812)","x":0.39,"y":0.831},{"s":"T cell decrease AUC=0.722(0.632-0.812)","x":1,"y":1},
    {"s":"B cell decrease AUC=0.507(0.399-0.613)","x":0,"y":0},{"s":"B cell decrease AUC=0.507(0.399-0.613)","x":0.01,"y":0.024},{"s":"B cell decrease AUC=0.507(0.399-0.613)","x":1,"y":1},
    {"s":"Ts cell decrease AUC=0.684(0.592-0.776)","x":0,"y":0},{"s":"Ts cell decrease AUC=0.684(0.592-0.776)","x":0.517,"y":0.879},{"s":"Ts cell decrease AUC=0.684(0.592-0.776)","x":1,"y":1},
    {"s":"Th cell decrease AUC=0.701(0.606-0.796)","x":0,"y":0},{"s":"Th cell decrease AUC=0.701(0.606-0.796)","x":0.357,"y":0.757},{"s":"Th cell decrease AUC=0.701(0.606-0.796)","x":1,"y":1},
    {"s":"NK cell decrease AUC=0.654(0.554-0.754)","x":0,"y":0},{"s":"NK cell decrease AUC=0.654(0.554-0.754)","x":0.3785,"y":0.684},{"s":"NK cell decrease AUC=0.654(0.554-0.754)","x":1,"y":1},
    {"s":"Reference Line","x":0,"y":0},{"s":"Reference Line","x":1,"y":1}
  ]
},
"resolve": {"scale": {"color": "independent"}},
"hconcat": [
  {
    "title": {"text": "A", "anchor": "start", "fontSize": 24, "fontWeight": "bold", "dy": 24, "dx": 2, "offset": 0},
    "resolve": {"scale": {"color": "independent"}},
    "hconcat": [
      {
        "width": 542, "height": 538,
        "title": {"text": "Severe or critical vs. Non-severe", "dx": -9},
        "data": {"name": "a"},
        "mark": {"type": "line", "strokeWidth": 1.8},
        "encoding": {
          "x": {"field": "x", "type": "quantitative", "scale": {"domain": [0, 1], "nice": false}, "axis": {"values": [0, 0.2, 0.4, 0.6, 0.8, 1], "format": ".1f", "title": "1 - Specificity"}},
          "y": {"field": "y", "type": "quantitative", "scale": {"domain": [0, 1], "nice": false}, "axis": {"values": [0, 0.2, 0.4, 0.6, 0.8, 1], "format": ".1f", "title": "Sensitivity", "titlePadding": 17}},
          "color": {"field": "s", "type": "nominal",
            "scale": {"domain": ["IL-2R AUC=0.802(0.744-0.86)", "IL-6 AUC=0.811(0.754-0.869)", "IL-8 AUC=0.763(0.699-0.827)", "IL-10 AUC=0.731(0.66-0.801)", "TNF-α AUC=0.699(0.63-0.767)", "NLR AUC=0.868(0.82-0.917)", "Reference Line"],
                      "range": ["#3a56b8", "#2db34a", "#c9c7a0", "#6b2a78", "#f5f55a", "#e8333b", "#3fbfc2"]},
            "legend": {"title": null, "orient": "none", "legendX": 254, "legendY": 392}},
          "order": [{"field": "x", "type": "quantitative"}, {"field": "y", "type": "quantitative"}]
        }
      }
    ]
  },
  {
    "title": {"text": "B", "anchor": "start", "fontSize": 24, "fontWeight": "bold", "dy": 24, "offset": 0},
    "resolve": {"scale": {"color": "independent"}},
    "hconcat": [
      {
        "width": 535, "height": 538,
        "title": {"text": "Severe or critical vs. Non-severe"},
        "data": {"name": "b"},
        "mark": {"type": "line", "strokeWidth": 1.8},
        "encoding": {
          "x": {"field": "x", "type": "quantitative", "scale": {"domain": [0, 1], "nice": false}, "axis": {"values": [0, 0.2, 0.4, 0.6, 0.8, 1], "format": ".1f", "title": "1 - Specificity"}},
          "y": {"field": "y", "type": "quantitative", "scale": {"domain": [0, 1], "nice": false}, "axis": {"values": [0, 0.2, 0.4, 0.6, 0.8, 1], "format": ".1f", "title": "Sensitivity", "titlePadding": 18}},
          "color": {"field": "s", "type": "nominal",
            "scale": {"domain": ["T cell decrease AUC=0.722(0.632-0.812)", "B cell decrease AUC=0.507(0.399-0.613)", "Ts cell decrease AUC=0.684(0.592-0.776)", "Th cell decrease AUC=0.701(0.606-0.796)", "NK cell decrease AUC=0.654(0.554-0.754)", "Reference Line"],
                      "range": ["#3a56b8", "#2db34a", "#c9c7a0", "#6b2a78", "#f5f55a", "#e8333b"]},
            "legend": {"title": null, "orient": "none", "legendX": 191, "legendY": 400}},
          "order": [{"field": "x", "type": "quantitative"}, {"field": "y", "type": "quantitative"}]
        }
      }
    ]
  }
]
}
